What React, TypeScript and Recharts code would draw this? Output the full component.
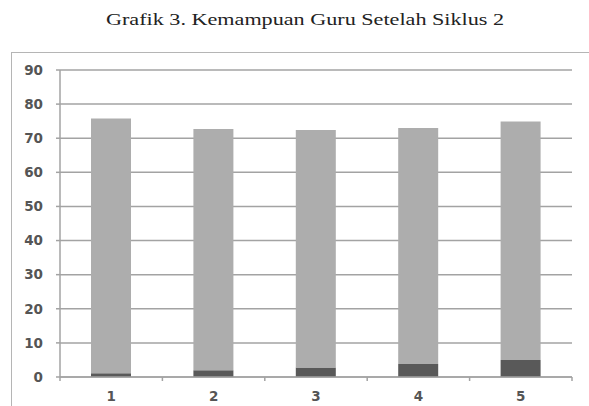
import { BarChart, Bar, XAxis, YAxis, CartesianGrid } from "recharts";

const categories = [1, 2, 3, 4, 5];
const lowValues = [1.1, 2, 2.8, 3.8, 5];
const highValues = [74.7, 70.7, 69.6, 69.2, 69.9];
const yTicks = [0, 10, 20, 30, 40, 50, 60, 70, 80, 90];
const bandEdges = [0.5, 1.5, 2.5, 3.5, 4.5, 5.5];

const data = categories.map((c, i) => ({
  x: c,
  low: lowValues[i],
  high: highValues[i],
}));

const axisGray = "#a3a3a3";
const labelStyle = {
  fill: "#555555",
  fontSize: 13.5,
  fontWeight: 700,
  fontFamily: "DejaVu Sans",
};

export default function App() {
  return (
    <div
      style={{
        position: "absolute",
        left: 0,
        top: 0,
        width: 589,
        height: 406,
        overflow: "hidden",
        background: "#fff",
      }}
    >
      <svg width={589} height={40} style={{ position: "absolute", left: 0, top: 0 }}>
        <text
          x={106}
          y={25}
          textLength={398}
          lengthAdjust="spacingAndGlyphs"
          fontFamily="Liberation Serif"
          fontSize={16}
          fill="#222"
        >
          Grafik 3. Kemampuan Guru Setelah Siklus 2
        </text>
      </svg>
      <div
        style={{
          position: "absolute",
          left: 11,
          top: 52,
          width: 620,
          height: 400,
          border: "1px solid #b5b5b5",
        }}
      />
      <div style={{ position: "absolute", left: 0, top: 0 }}>
        <BarChart
          width={589}
          height={406}
          data={data}
          margin={{ top: 70, right: 17, bottom: 0, left: 10 }}
        >
          <CartesianGrid vertical={false} stroke={axisGray} strokeWidth={1.5} />
          <XAxis
            xAxisId="edges"
            type="number"
            dataKey="x"
            domain={[0.5, 5.5]}
            ticks={bandEdges}
            tick={() => <g />}
            height={0.01}
            tickSize={4}
            stroke={axisGray}
            strokeWidth={1.5}
          />
          <XAxis
            xAxisId="labels"
            type="number"
            dataKey="x"
            domain={[0.5, 5.5]}
            ticks={categories}
            height={29}
            axisLine={false}
            tickLine={false}
            tickSize={0}
            tickMargin={14}
            tick={labelStyle}
          />
          <YAxis
            domain={[0, 90]}
            ticks={yTicks}
            width={50}
            tickSize={4}
            tickMargin={13}
            stroke={axisGray}
            strokeWidth={1.5}
            tick={labelStyle}
          />
          <Bar
            xAxisId="labels"
            dataKey="low"
            stackId="s"
            fill="#595959"
            barSize={40}
            isAnimationActive={false}
          />
          <Bar
            xAxisId="labels"
            dataKey="high"
            stackId="s"
            fill="#adadad"
            barSize={40}
            isAnimationActive={false}
          />
        </BarChart>
      </div>
    </div>
  );
}
